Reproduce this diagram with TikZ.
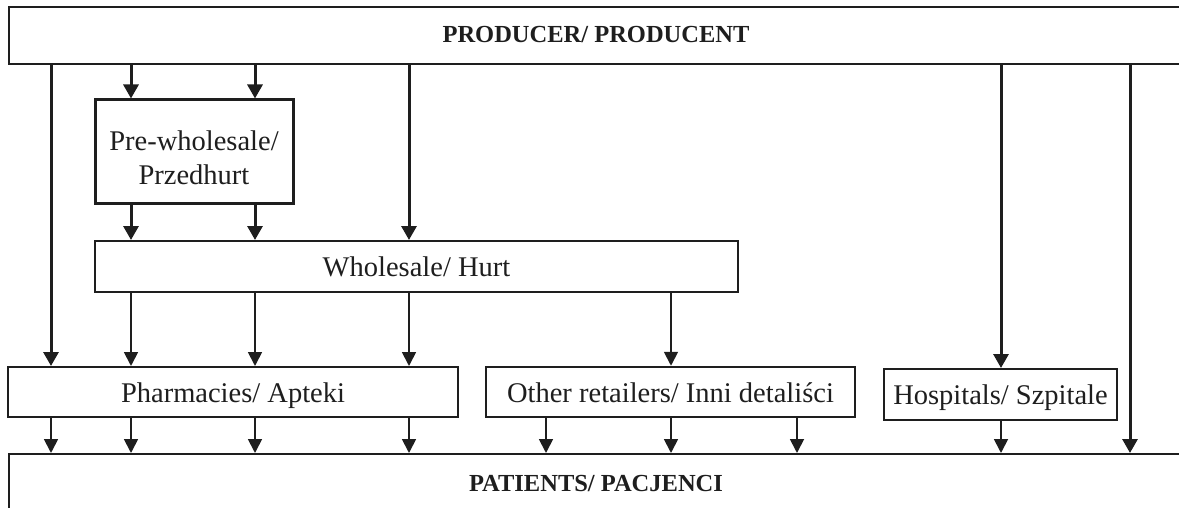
\documentclass[tikz,border=0pt]{standalone}
\usepackage{fontspec}
\setmainfont{Liberation Serif}
\usetikzlibrary{arrows.meta}

\begin{document}
\begin{tikzpicture}[x=1pt,y=-1pt,
  box/.style={draw=ink,line width=2pt,inner sep=0pt,text=ink,text height=20pt,text depth=0pt,font=\fontsize{28.5}{32}\selectfont},
  heavybox/.style={box,line width=3pt},
  boxtext/.style={text=ink,inner sep=0pt,align=center,font=\fontsize{28.5}{32}\selectfont},
  head/.style={text=ink,font=\fontsize{24.5}{28}\selectfont\bfseries},
  mainarr/.style={draw=ink,line width=3pt,-{Triangle[length=14pt,width=15pt]}},
  subarr/.style={draw=ink,line width=1.8pt,-{Triangle[length=14pt,width=14pt]}}]
\definecolor{ink}{HTML}{1E1E1E}
\useasboundingbox (0,0) rectangle (1179,508);
\clip (0,0) rectangle (1179,508);
% boxes
\node[box,minimum width=1320,minimum height=57,anchor=north west] (prod) at (8,6) {};
\node[head] (prodtext) at (596,35) {PRODUCER/ PRODUCENT};
\node[heavybox,minimum width=198,minimum height=104] (pre) at (194,152) {};
\node[boxtext] (pretext) at (194,158) {Pre-wholesale/\\[2pt]Przedhurt};
\node[box,minimum width=643,minimum height=51] (whole) at (416.5,266.5) {Wholesale/ Hurt};
\node[box,minimum width=450,minimum height=50] (pharm) at (233,392) {Pharmacies/ Apteki};
\node[box,line width=2.5pt,minimum width=369,minimum height=50] (other) at (670.5,392) {Other retailers/ Inni detaliści};
\node[box,minimum width=233,minimum height=51] (hosp) at (1000.5,394.5) {Hospitals/ Szpitale};
\node[box,minimum width=1320,minimum height=120,anchor=north west] (pat) at (8,453) {};
\node[head] (pattext) at (596,484) {PATIENTS/ PACJENCI};
% columns of the arrows
\foreach \n/\x in {a/51,b/131,c/255,d/409,e/546,f/671,g/797,h/1001,i/1130}
  \coordinate (col\n) at (\x,0);
\foreach \s/\t/\c in {prod/pharm/a,prod/pre/b,prod/pre/c,pre/whole/b,pre/whole/c,prod/whole/d,prod/hosp/h,prod/pat/i}
  \draw[mainarr] (\s.south -| col\c) -- (\t.north -| col\c);
\foreach \s/\t/\c in {whole/pharm/b,whole/pharm/c,whole/pharm/d,whole/other/f,pharm/pat/a,pharm/pat/b,pharm/pat/c,pharm/pat/d,other/pat/e,other/pat/f,other/pat/g,hosp/pat/h}
  \draw[subarr] (\s.south -| col\c) -- (\t.north -| col\c);
\end{tikzpicture}
\end{document}
